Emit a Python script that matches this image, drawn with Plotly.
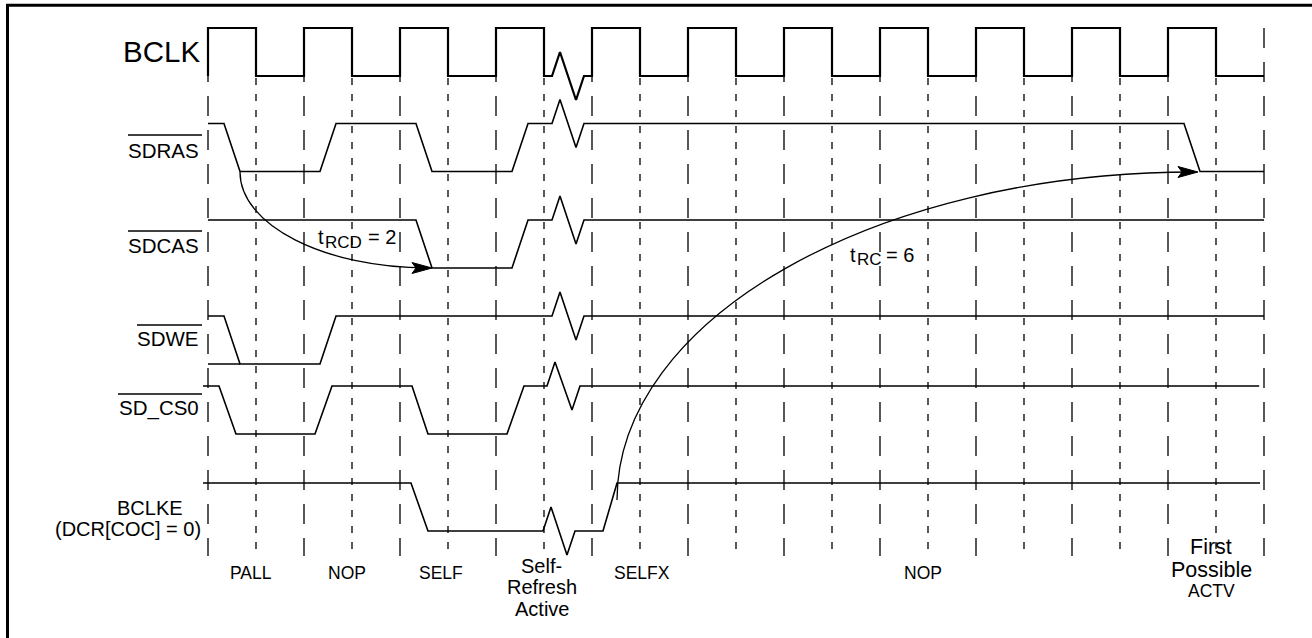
import plotly.graph_objects as go

# ---------------- data: waveforms (time in half clock periods, level 0=low 1=high) -------------
clk_t = [0, 0, 1, 1, 2, 2, 3, 3, 4, 4, 5, 5, 6, 6, 7, 7,
         7.167, 7.333, 7.667, 7.833,
         8, 8, 9, 9, 10, 10, 11, 11, 12, 12, 13, 13, 14, 14, 15, 15,
         16, 16, 17, 17, 18, 18, 19, 19, 20, 20, 21, 21, 22]
clk_v = [0, 1, 1, 0, 0, 1, 1, 0, 0, 1, 1, 0, 0, 1, 1, 0,
         0, 0.5, -0.5, 0,
         0, 1, 1, 0, 0, 1, 1, 0, 0, 1, 1, 0, 0, 1, 1, 0,
         0, 1, 1, 0, 0, 1, 1, 0, 0, 1, 1, 0, 0]

sdras_t = [0, 0.333, 0.667, 2.333, 2.667, 4.333, 4.667, 6.333, 6.667,
           7.167, 7.333, 7.667, 7.833, 20.333, 20.667, 22]
sdras_v = [1, 1, 0, 0, 1, 1, 0, 0, 1, 1, 1.5, 0.5, 1, 1, 0, 0]

sdcas_t = [0, 4.333, 4.667, 6.333, 6.667, 7.167, 7.333, 7.667, 7.833, 22]
sdcas_v = [1, 1, 0, 0, 1, 1, 1.5, 0.5, 1, 1]

sdwe_t = [0, 0.667, None, 0, 0.333, 0.667, 2.333, 2.667,
          7.167, 7.333, 7.667, 7.833, 22]
sdwe_v = [0, 0, None, 1, 1, 0, 0, 1, 1, 1.5, 0.5, 1, 1]

sdcs0_t = [-0.104, 0.229, 0.583, 2.229, 2.583, 4.25, 4.583, 6.229, 6.583,
           7.063, 7.229, 7.583, 7.75, 21.9]
sdcs0_v = [1, 1, 0, 0, 1, 1, 0, 0, 1, 1, 1.5, 0.5, 1, 1]

bclke_t = [-0.104, 4.229, 4.583, 6.979, 7.146, 7.479, 7.646, 8.229, 8.521, 21.917]
bclke_v = [1, 1, 0, 0, 0.5, -0.5, 0, 0, 1, 1]

grid_long_t = [0, 2, 4, 6, 8, 10, 12, 14, 16, 18, 20, 22]
grid_short_t = [1, 3, 5, 7, 9, 11, 13, 15, 17, 19, 21]

signal_names = ["BCLK", "SDRAS", "SDCAS", "SDWE", "SD_CS0", "BCLKE"]
phase_labels = ["PALL", "NOP", "SELF", "SELFX", "NOP"]
phase_t = [0.9, 2.9, 4.85, 9.05, 14.9]
trcd_parts = ["t", "RCD", "= 2"]
trc_parts = ["t", "RC", "= 6"]

# ---------------- layout constants (pixels) ----------------
W, H = 1312, 638
X0, HALF = 208.0, 48.0          # pixel of t=0, pixels per half period
LEVEL = 48.0                    # pixels per logic level
row_low = {"BCLK": 76, "SDRAS": 171.5, "SDCAS": 268, "SDWE": 364,
           "SD_CS0": 434, "BCLKE": 531}
FONT = "Liberation Sans, Arial, Helvetica, sans-serif"


def X(px):
    return (px - X0) / HALF


def ys(name, vals):
    return [None if v is None else row_low[name] - v * LEVEL for v in vals]


fig = go.Figure()

# vertical dashed reference lines
def vlines(ts, y0, y1):
    xs, yy = [], []
    for t in ts:
        xs += [t, t, None]
        yy += [y0, y1, None]
    return xs, yy

gx, gy = vlines(grid_long_t, 28, 556)
fig.add_trace(go.Scatter(x=gx, y=gy, mode="lines",
                         line=dict(color="black", width=1.3, dash="20px,14px"),
                         hoverinfo="skip"))
gx, gy = vlines(grid_short_t, 78, 556)
fig.add_trace(go.Scatter(x=gx, y=gy, mode="lines",
                         line=dict(color="black", width=1.3, dash="7px,9px"),
                         hoverinfo="skip"))

waves = [("BCLK", clk_t, clk_v, 2.2),
         ("SDRAS", sdras_t, sdras_v, 1.6),
         ("SDCAS", sdcas_t, sdcas_v, 1.6),
         ("SDWE", sdwe_t, sdwe_v, 1.6),
         ("SD_CS0", sdcs0_t, sdcs0_v, 1.6),
         ("BCLKE", bclke_t, bclke_v, 1.6)]
for name, ts, vs, w in waves:
    fig.add_trace(go.Scatter(x=ts, y=ys(name, vs), mode="lines",
                             line=dict(color="black", width=w),
                             connectgaps=False, hoverinfo="skip"))

shapes = []
# border (top and left)
shapes.append(dict(type="line", xref="paper", yref="y", x0=6 / W, x1=1, y0=5.3, y1=5.3,
                   line=dict(color="black", width=3)))
shapes.append(dict(type="line", xref="paper", yref="y", x0=7.5 / W, x1=7.5 / W, y0=4, y1=H,
                   line=dict(color="black", width=3)))

# timing arcs (quarter ellipses as cubic Bezier)
k = 0.5523
def arc(px0, py0, px1, py1):
    c1 = (px0, py0 + k * (py1 - py0))
    c2 = (px1 - k * (px1 - px0), py1)
    return "M {},{} C {},{} {},{} {},{}".format(
        X(px0), py0, X(c1[0]), c1[1], X(c2[0]), c2[1], X(px1), py1)

shapes.append(dict(type="path", xref="x", yref="y", path=arc(240, 172, 428, 268),
                   line=dict(color="black", width=1.3)))
shapes.append(dict(type="path", xref="x", yref="y", path=arc(617, 500, 1194, 172),
                   line=dict(color="black", width=1.3)))

def head(tx, ty):
    return "M {},{} L {},{} L {},{} L {},{} Z".format(
        X(tx), ty, X(tx - 20), ty - 5.5, X(tx - 16), ty, X(tx - 20), ty + 5.5)

shapes.append(dict(type="path", xref="x", yref="y", path=head(432, 268),
                   fillcolor="black", line=dict(color="black", width=1)))
shapes.append(dict(type="path", xref="x", yref="y", path=head(1198, 172),
                   fillcolor="black", line=dict(color="black", width=1)))

# overlines for active-low signal names
overlines = {"SDRAS": (128, 135), "SDCAS": (128, 231), "SDWE": (137, 325), "SD_CS0": (118, 394)}
for nm, (xl, yl) in overlines.items():
    shapes.append(dict(type="line", xref="x", yref="y", x0=X(xl), x1=X(202), y0=yl, y1=yl,
                       line=dict(color="black", width=1.5)))

ann = []
def txt(text, px, py, size, xanchor="center"):
    ann.append(dict(text=text, x=X(px), y=py, xref="x", yref="y", showarrow=False,
                    xanchor=xanchor, yanchor="middle",
                    font=dict(family=FONT, size=size, color="black")))

txt(signal_names[0], 202, 51, 29.5, "right")
txt(signal_names[1], 201, 150, 20.5, "right")
txt(signal_names[2], 201, 245, 20.5, "right")
txt(signal_names[3], 201, 338, 20.5, "right")
txt(signal_names[4], 201, 408, 20.5, "right")
txt(signal_names[5], 185, 508, 20, "right")
txt("(DCR[COC] = 0)", 203, 529, 20, "right")

for lab, t in zip(phase_labels, phase_t):
    txt(lab, X0 + HALF * t, 573, 17.5)
txt("Self-", 541.5, 566, 20)
txt("Refresh", 541.5, 587, 20)
txt("Active", 541.5, 609, 20)
txt("First", 1211, 547, 21.5)
txt("Possible", 1211, 570, 21.5)
txt("ACTV", 1211, 591, 17.5)

# timing parameter labels: main letter, subscript, value
txt(trcd_parts[0], 315.5, 236.5, 20, "left")
txt(trcd_parts[1], 322.5, 242, 17, "left")
txt(trcd_parts[2], 365.5, 236.5, 20, "left")
txt(trc_parts[0], 847.5, 254.5, 20, "left")
txt(trc_parts[1], 855, 259.5, 17, "left")
txt(trc_parts[2], 883.5, 254.5, 20, "left")

fig.update_layout(
    width=W, height=H, margin=dict(l=0, r=0, t=0, b=0),
    paper_bgcolor="white", plot_bgcolor="white", showlegend=False,
    xaxis=dict(range=[X(0), X(W)], visible=False, fixedrange=True),
    yaxis=dict(range=[H, 0], visible=False, fixedrange=True),
    shapes=shapes, annotations=ann,
)
fig.write_html("out.html", config={"displayModeBar": False},
               post_script="document.body.style.margin='0';document.body.style.overflow='hidden';")
